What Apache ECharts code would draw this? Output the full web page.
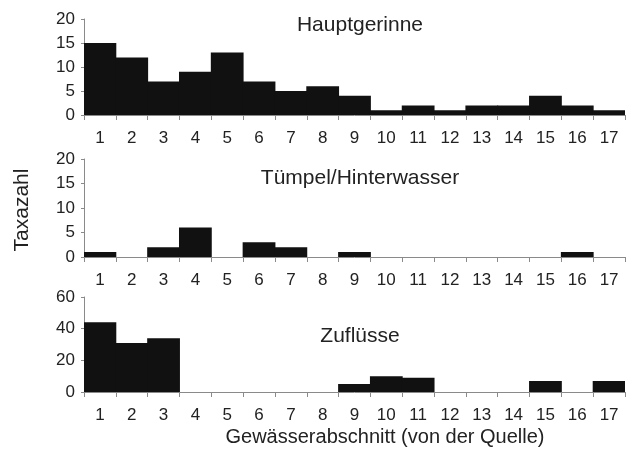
<!DOCTYPE html>
<html>
<head>
<meta charset="utf-8">
<script src="https://cdn.jsdelivr.net/npm/echarts@6/dist/echarts.min.js"></script>
<style>
html,body{margin:0;padding:0;background:#fff;}
#chart{width:632px;height:456px;}
</style>
</head>
<body>
<div id="chart"></div>
<script>
const categories = ['1','2','3','4','5','6','7','8','9','10','11','12','13','14','15','16','17'];
const hauptgerinne = [15,12,7,9,13,7,5,6,4,1,2,1,2,2,4,2,1];
const tuempel = [1,0,2,6,0,3,2,0,1,0,0,0,0,0,0,1,0];
const zufluesse = [44,31,34,0,0,0,0,0,5,10,9,0,0,0,7,0,7];
const panelTitles = ['Hauptgerinne','Tümpel/Hinterwasser','Zuflüsse'];
const yMax = [20,20,60];
const yInterval = [5,5,20];
const xTitle = 'Gewässerabschnitt (von der Quelle)';
const yTitle = 'Taxazahl';

const seriesData = [hauptgerinne, tuempel, zufluesse];
const grids = [
  {left:84, right:7, top:19, height:96},
  {left:84, right:7, top:159, height:98},
  {left:84, right:7, top:297, height:95}
];
const titleTops = [10, 163, 321];
const tickFont = '"Liberation Sans",Arial,sans-serif';
const mainFont = '"Liberation Sans",Arial,sans-serif';
const axisColor = '#8a8a8a';

const chart = echarts.init(document.getElementById('chart'));
const option = {
  backgroundColor:'#fff',
  animation:false,
  title: panelTitles.map((t,i)=>({
    text:t, left:355, top:titleTops[i], textAlign:'center',
    textStyle:{fontFamily:mainFont, fontSize:21, fontWeight:'normal', color:'#222'}
  })),
  grid: grids,
  xAxis: grids.map((g,i)=>({
    type:'category', gridIndex:i, data:categories, boundaryGap:true,
    axisLine:{lineStyle:{color:axisColor,width:1}},
    axisTick:{show:true, alignWithLabel:false, length:5, lineStyle:{color:axisColor}},
    axisLabel:{color:'#222', fontFamily:tickFont, fontSize:17, margin:15, interval:0},
    splitLine:{show:false}
  })),
  yAxis: grids.map((g,i)=>({
    type:'value', gridIndex:i, min:0, max:yMax[i], interval:yInterval[i],
    axisLine:{show:true, lineStyle:{color:axisColor,width:1}},
    axisTick:{show:true, length:3, lineStyle:{color:axisColor}},
    axisLabel:{color:'#222', fontFamily:tickFont, fontSize:17, margin:9},
    splitLine:{show:false}
  })),
  series: seriesData.map((d,i)=>({
    type:'bar', xAxisIndex:i, yAxisIndex:i, data:d,
    barWidth:'103%',
    itemStyle:{color:'#111', borderWidth:0}
  })),
  graphic:[
    {type:'text', x:385, y:437, style:{text:xTitle, fill:'#222', font:'20px '+mainFont, textAlign:'center', textVerticalAlign:'middle'}},
    {type:'text', x:22, y:210, rotation:Math.PI/2, style:{text:yTitle, fill:'#222', font:'21px '+mainFont, textAlign:'center', textVerticalAlign:'middle'}}
  ]
};
chart.setOption(option);
</script>
</body>
</html>
